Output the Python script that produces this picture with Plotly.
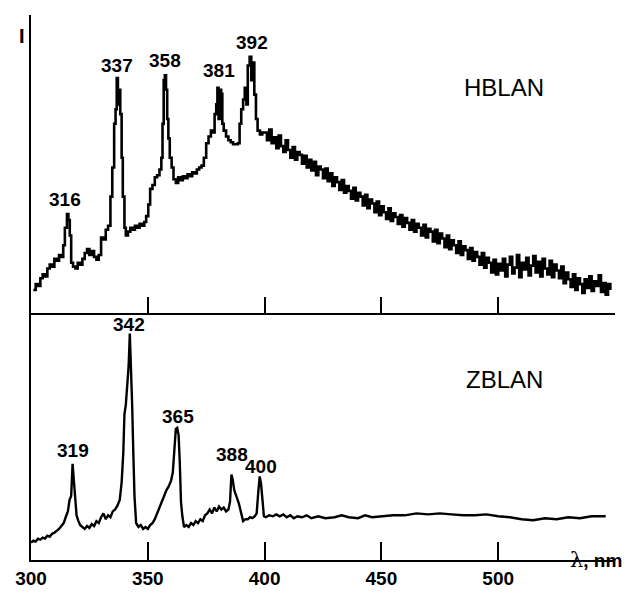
import plotly.graph_objects as go

# ---------------- data (intensity in arbitrary units) ----------------
hb_x_head = [301, 302, 303, 304, 305, 306, 307, 308, 309, 310, 311, 312, 313, 313.8, 314.5, 315.4, 316, 316.6, 317.2,
             318, 319, 320, 321, 322, 323, 324, 325, 326, 327, 328, 329, 330, 331, 332, 333, 334, 334.8, 335.6, 336.2,
             336.7, 337.2, 337.6, 338.2, 338.8, 339.3, 340, 340.6, 341.5, 342.5, 343.5, 344.5, 345.5, 346.5, 347.5,
             348.5, 349.3, 350.2, 351, 352, 353, 354, 355, 355.8, 356.3, 356.8, 357.3, 357.8, 358.3, 358.8, 359.4,
             360.2, 361, 362, 363, 364, 365, 366, 367, 368, 369, 370, 371, 372, 373, 374, 375, 376, 377, 378, 378.6,
             379.3, 379.8, 380.3, 380.8, 381.4, 381.9, 382.5, 383.5, 384.5, 385.5, 386.5, 387.5, 388.5, 389.3, 390,
             390.8, 391.5, 392.2, 392.8, 393.6, 394.3, 395, 395.6, 396.3, 397, 398, 399]
hb_y_head = [24, 30, 28, 36, 40, 38, 46, 50, 48, 56, 54, 60, 58, 70, 88, 102, 96, 80, 52,
             48, 46, 52, 50, 56, 62, 66, 60, 64, 58, 55, 60, 78, 76, 86, 90, 120, 150, 195, 210,
             242, 215, 230, 205, 160, 120, 88, 80, 84, 88, 86, 90, 88, 92, 90,
             94, 100, 112, 128, 132, 140, 142, 148, 160, 195, 240, 245, 230, 200, 180, 160,
             150, 138, 134, 140, 137, 141, 139, 143, 141, 145, 144, 148, 150, 152, 160, 175, 182, 188, 186, 205,
             215, 232, 200, 230, 226, 195, 188, 182, 178, 176, 174, 174, 175, 195, 210,
             220, 232, 215, 255, 264, 240, 258, 225, 200, 188, 184, 186]
hb_x_tail = [400, 401, 402, 403, 404, 405, 406, 407, 408, 409, 410, 411, 412, 413, 414, 415, 416, 417, 418, 419,
             420, 421, 422, 423, 424, 425, 426, 427, 428, 429, 430, 431, 432, 433, 434, 435, 436, 437, 438, 439,
             440, 441, 442, 443, 444, 445, 446, 447, 448, 449, 450, 451, 452, 453, 454, 455, 456, 457, 458, 459,
             460, 461, 462, 463, 464, 465, 466, 467, 468, 469, 470, 471, 472, 473, 474, 475, 476, 477, 478, 479,
             480, 481, 482, 483, 484, 485, 486, 487, 488, 489, 490, 491, 492, 493, 494, 495, 496, 497, 498, 499,
             500, 501, 502, 503, 504, 505, 506, 507, 508, 509, 510, 511, 512, 513, 514, 515, 516, 517, 518, 519,
             520, 521, 522, 523, 524, 525, 526, 527, 528, 529, 530, 531, 532, 533, 534, 535, 536, 537, 538, 539,
             540, 541, 542, 543, 544, 545, 546, 547, 548]
hb_y_tail = [186, 178, 189, 175, 181, 170, 183, 172, 166, 178, 168, 160, 171, 158, 166, 163, 154, 162, 150, 158,
             147, 156, 142, 151, 148, 139, 149, 136, 144, 131, 140, 135, 127, 137, 124, 131, 126, 118, 129, 116,
             124, 120, 111, 122, 108, 117, 113, 104, 115, 101, 110, 104, 97, 108, 95, 103, 99, 92, 101, 89,
             98, 93, 86, 96, 84, 92, 88, 80, 91, 78, 87, 84, 74, 86, 72, 82, 77, 68, 80, 66,
             75, 70, 62, 74, 60, 69, 65, 56, 67, 54, 63, 58, 50, 62, 47, 57, 52, 42, 55, 40,
             51, 44, 56, 38, 50, 58, 41, 47, 60, 37, 52, 45, 57, 39, 49, 59, 42, 53, 38, 56,
             46, 40, 54, 37, 50, 44, 36, 48, 31, 42, 35, 27, 40, 24, 36, 30, 21, 35, 26, 38,
             23, 33, 28, 39, 22, 31, 19, 30, 24]

zb_x = [300, 301, 302, 303, 304, 305, 306, 307, 308, 309, 310, 311, 312, 313, 314, 315, 315.8, 316.5, 317.2, 317.8,
        318.4, 318.9, 319.5, 320.3, 321, 322, 323, 324, 325, 326, 327, 328, 329, 330, 331, 332, 333, 334, 335, 336,
        337, 338, 338.8, 339.5, 340, 340.6, 341.2, 341.8, 342.3, 342.8, 343.3, 343.8, 344.3, 345, 346, 347, 348, 349,
        350, 351, 352, 353, 354, 355, 356, 357, 358, 359, 360, 360.7, 361.4, 362, 362.6, 363.2, 363.7, 364.2, 364.8,
        365.5, 366.5, 367.5, 368.5, 369.5, 370.5, 371.5, 372.5, 373.5, 374.5, 375.5, 376.5, 377.5, 378.5, 379.5,
        380.5, 381.5, 382.5, 383.5, 384.5, 385.2, 385.8, 386.4, 387, 388, 389, 390, 390.8, 391.8, 392.8, 393.8,
        394.8, 395.8, 396.6, 397.3, 397.9, 398.5, 399.1, 399.7, 400.5, 402, 403.5, 405, 406.5, 408, 409.5, 411,
        412.5, 414, 416, 418, 420, 423, 426, 430, 433, 436, 440, 443, 446, 450, 455, 460, 465, 470, 475, 480, 485,
        490, 495, 500, 505, 510, 515, 520, 525, 530, 535, 540, 546]
zb_y = [18, 20, 19, 22, 21, 23, 22, 25, 24, 27, 28, 30, 32, 35, 38, 45, 50, 62, 66, 99,
        80, 64, 46, 40, 36, 34, 32, 35, 33, 37, 35, 40, 38, 44, 48, 42, 46, 44, 50, 52,
        56, 62, 80, 110, 150, 160, 178, 200, 233, 180, 160, 110, 66, 38, 34, 36, 32, 34,
        32, 36, 38, 42, 48, 52, 60, 64, 72, 76, 82, 90, 110, 135, 136, 128, 100, 60, 45,
        34, 36, 34, 38, 36, 40, 38, 42, 40, 46, 48, 52, 48, 54, 50,
        55, 52, 54, 50, 52, 60, 88, 82, 72, 65, 58, 48, 40, 42, 42, 44,
        43, 45, 48, 70, 86, 78, 62, 45, 44, 46, 45, 47, 45, 47, 44, 46,
        43, 45, 44, 46, 43, 45, 43, 44, 46, 44, 43, 46, 44, 45, 46, 46, 48, 47, 48, 47, 46,
        46, 47, 45, 44, 42, 41, 43, 42, 44, 43, 45, 45]

hb_peaks = ["316", "337", "358", "381", "392"]
hb_peak_x = [314.5, 336.7, 357.3, 380.3, 394.4]
hb_peak_y = [117, 255, 260, 250, 279]
zb_peaks = ["319", "342", "365", "388", "400"]
zb_peak_x = [318, 342, 362.8, 386, 398.3]
zb_peak_y = [113, 242, 148, 109, 96]

x_ticks = [300, 350, 400, 450, 500, 550]
x_tick_text = ["300", "350", "400", "450", "500", ""]

# ---------------- figure ----------------
FONT = "Liberation Sans, Arial, sans-serif"
fig = go.Figure()
fig.add_trace(go.Scatter(x=hb_x_head + hb_x_tail, y=hb_y_head + hb_y_tail, mode="lines",
                         line=dict(color="black", width=2.6, shape="hv"), xaxis="x", yaxis="y",
                         showlegend=False, hoverinfo="skip"))
fig.add_trace(go.Scatter(x=zb_x, y=zb_y, mode="lines",
                         line=dict(color="black", width=2.4), xaxis="x2", yaxis="y2",
                         showlegend=False, hoverinfo="skip"))

split = 254 / 561
common_x = dict(range=[300, 550], tickvals=x_ticks, ticktext=x_tick_text, ticks="inside",
                tickwidth=2, tickcolor="black", showline=True, linecolor="black", linewidth=2,
                showgrid=False, zeroline=False,
                tickfont=dict(family=FONT, size=19, color="black", weight="bold"))
fig.update_layout(
    width=635, height=601, margin=dict(l=31, r=20, t=15, b=25),
    paper_bgcolor="white", plot_bgcolor="white",
    xaxis=dict(common_x, anchor="y", showticklabels=False, ticklen=16),
    yaxis=dict(domain=[split, 1], range=[0, 307], anchor="x", showline=True, linecolor="black",
               linewidth=2, showticklabels=False, ticks="", showgrid=False, zeroline=False),
    xaxis2=dict(common_x, anchor="y2", matches="x", ticklen=18),
    yaxis2=dict(domain=[0, split], range=[0, 254], anchor="x2", showline=True, linecolor="black",
                linewidth=2, showticklabels=False, ticks="", showgrid=False, zeroline=False),
)

lab_font = dict(family=FONT, size=19, color="black", weight="bold")
for t, x, y in zip(hb_peaks, hb_peak_x, hb_peak_y):
    fig.add_annotation(x=x, y=y, xref="x", yref="y", text=t, showarrow=False, font=lab_font)
for t, x, y in zip(zb_peaks, zb_peak_x, zb_peak_y):
    fig.add_annotation(x=x, y=y, xref="x2", yref="y2", text=t, showarrow=False, font=lab_font)

name_font = dict(family=FONT, size=24, color="black")
fig.add_annotation(x=502.6, y=232, xref="x", yref="y", text="HBLAN", showarrow=False, font=name_font)
fig.add_annotation(x=502.6, y=186, xref="x2", yref="y2", text="ZBLAN", showarrow=False, font=name_font)

fig.add_annotation(x=541.9, y=0, xref="x2", yref="y2 domain", yshift=-14,
                   text="<span style='font-family:DejaVu Serif;font-weight:normal;font-size:21px'>λ</span>, nm",
                   showarrow=False, font=dict(family=FONT, size=19, color="black", weight="bold"))
fig.add_annotation(x=-14 / 584, y=1 - 8.5 / 561, xref="paper", yref="paper", text="I", showarrow=False,
                   font=dict(family=FONT, size=20, color="black", weight="bold"))

fig.write_html("out.html", config={"displayModeBar": False},
               post_script="document.body.style.margin='0';")
